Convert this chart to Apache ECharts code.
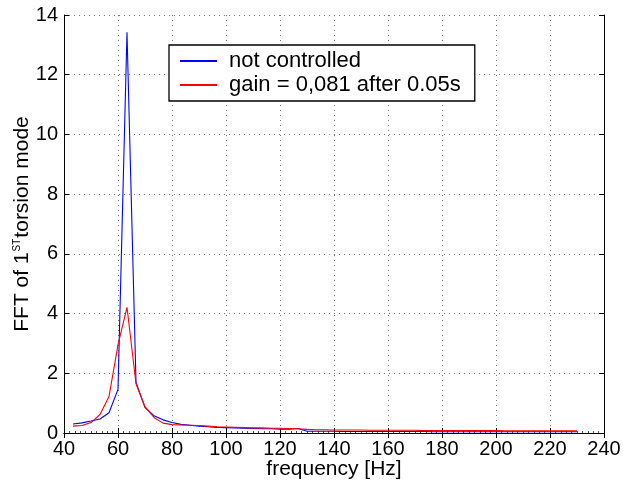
<!DOCTYPE html>
<html><head><meta charset="utf-8">
<script src="https://cdn.jsdelivr.net/npm/echarts@6/dist/echarts.min.js"></script>
<style>html,body{margin:0;padding:0;background:#fff}#c{width:623px;height:486px}</style>
</head><body><div id="c"></div>
<script>
const freq = [43.33,46.67,50,53.33,56.67,60,63.33,66.67,70,73.33,76.67,80,83.33,86.67,90,93.33,96.67,100,103.33,106.67,110,113.33,116.67,120,123.33,126.67,130,133.33,136.67,140,143.33,146.67,150,153.33,156.67,160,163.33,166.67,170,173.33,176.67,180,183.33,186.67,190,193.33,196.67,200,203.33,206.67,210,213.33,216.67,220,223.33,226.67,230];
const notControlled = [0.30,0.34,0.40,0.47,0.68,1.46,13.42,1.69,0.85,0.58,0.44,0.35,0.29,0.26,0.23,0.21,0.19,0.18,0.17,0.16,0.15,0.14,0.14,0.13,0.13,0.15,0.06,0.06,0.06,0.06,0.05,0.05,0.05,0.05,0.05,0.05,0.05,0.05,0.05,0.05,0.04,0.04,0.04,0.04,0.04,0.04,0.04,0.04,0.04,0.04,0.04,0.04,0.04,0.04,0.04,0.04,0.04];
const gainCtrl = [0.23,0.25,0.35,0.62,1.22,2.95,4.21,1.65,0.88,0.52,0.33,0.28,0.27,0.26,0.25,0.23,0.21,0.20,0.19,0.18,0.17,0.17,0.16,0.16,0.15,0.14,0.12,0.11,0.11,0.10,0.10,0.10,0.10,0.09,0.09,0.09,0.09,0.09,0.09,0.08,0.08,0.08,0.08,0.08,0.08,0.08,0.08,0.08,0.07,0.07,0.07,0.07,0.07,0.07,0.07,0.07,0.07];
const seriesNames = ['not controlled','gain = 0,081 after 0.05s'];
const xTitle = 'frequency [Hz]';

const F = 'Liberation Sans, Arial, Helvetica, sans-serif';
const chart = echarts.init(document.getElementById('c'), null, {renderer:'canvas'});
const mk = ys => freq.map((f,i)=>[f,ys[i]]);
chart.setOption({
  animation:false,
  backgroundColor:'#fff',
  grid:{left:64,right:19,top:15,bottom:53,containLabel:false,outerBoundsMode:'none'},
  legend:{
    data:seriesNames, orient:'vertical', left:169, top:45,
    itemWidth:37, itemHeight:2, itemGap:2,
    padding:[5,14,5,11],
    borderColor:'#000', borderWidth:1.3, backgroundColor:'#fff',
    icon:'rect',
    textStyle:{fontFamily:F,fontSize:22,color:'#000',padding:[0,0,0,7],lineHeight:21}
  },
  xAxis:[{
    type:'value',min:40,max:240,interval:20,position:'bottom',
    name:xTitle,nameLocation:'middle',nameGap:26,nameMoveOverlap:false,
    nameTextStyle:{fontFamily:F,fontSize:21,color:'#000',verticalAlign:'top'},
    axisLine:{show:true,lineStyle:{color:'#000',width:1}},
    axisTick:{show:true,inside:true,length:5,lineStyle:{color:'#000'}},
    minorTick:{show:true,splitNumber:10,length:2,lineStyle:{color:'#555'}},
    axisLabel:{fontFamily:F,fontSize:20,color:'#000',margin:6},
    splitLine:{show:true,lineStyle:{color:'#777',type:[1,4],width:1}}
  },{
    type:'value',min:40,max:240,interval:20,position:'top',
    axisLine:{show:true,lineStyle:{color:'#000',width:1}},
    axisTick:{show:true,inside:true,length:5,lineStyle:{color:'#000'}},
    axisLabel:{show:false},splitLine:{show:false}
  }],
  yAxis:[{
    type:'value',min:0,max:14,interval:2,position:'left',
    name:'{n|FFT of 1}{s|ST}{n|torsion mode}',nameLocation:'middle',nameGap:31,nameMoveOverlap:false,
    nameTextStyle:{rich:{n:{fontFamily:F,fontSize:21,color:'#000'},s:{fontFamily:F,fontSize:10,color:'#000',verticalAlign:'top',padding:[0,1,9,1]}}},
    axisLine:{show:true,lineStyle:{color:'#000',width:1}},
    axisTick:{show:true,inside:true,length:5,lineStyle:{color:'#000'}},
    axisLabel:{fontFamily:F,fontSize:20,color:'#000',margin:6},
    splitLine:{show:true,lineStyle:{color:'#777',type:[1,4],width:1}}
  },{
    type:'value',min:0,max:14,interval:2,position:'right',
    axisLine:{show:true,lineStyle:{color:'#000',width:1}},
    axisTick:{show:true,inside:true,length:5,lineStyle:{color:'#000'}},
    axisLabel:{show:false},splitLine:{show:false}
  }],
  series:[
    {name:seriesNames[0],type:'line',data:mk(notControlled),showSymbol:false,symbol:'none',
     lineStyle:{color:'#0000ff',width:1.1},itemStyle:{color:'#0000ff'},z:2},
    {name:seriesNames[1],type:'line',data:mk(gainCtrl),showSymbol:false,symbol:'none',
     lineStyle:{color:'#ff0000',width:1.1},itemStyle:{color:'#ff0000'},z:3}
  ]
});
</script></body></html>
